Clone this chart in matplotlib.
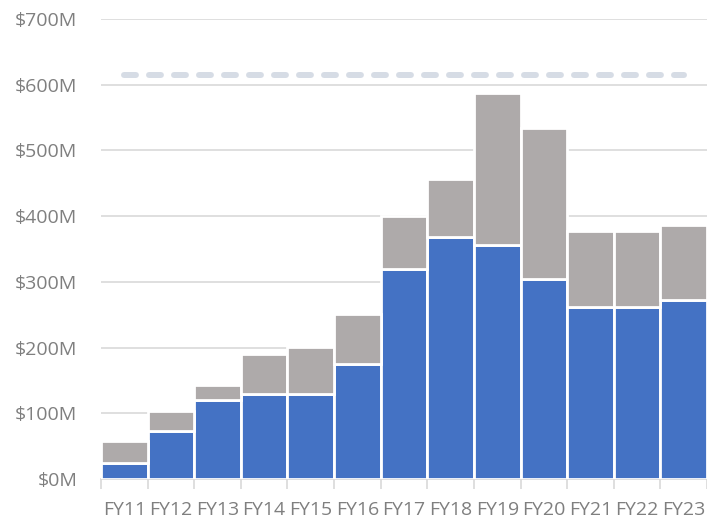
import matplotlib
matplotlib.use("Agg")
import matplotlib.pyplot as plt
import numpy as np

years = ["FY11", "FY12", "FY13", "FY14", "FY15", "FY16", "FY17",
         "FY18", "FY19", "FY20", "FY21", "FY22", "FY23"]
# blue (lower) part and total height, $M
blue = [24, 73, 120, 130, 130, 175, 320, 368, 356, 305, 262, 262, 272]
total = [58, 103, 143, 190, 201, 251, 400, 457, 587, 534, 377, 377, 387]
target = [615] * 13

gray = [t - b for t, b in zip(total, blue)]

plt.rcParams['font.family'] = ['Open Sans', 'DejaVu Sans']
plt.rcParams['lines.scale_dashes'] = False

fig = plt.figure(figsize=(7.07, 5.23), dpi=100)
ax = fig.add_axes([101 / 707, 1 - 479 / 523, 606 / 707, (479 - 19) / 523])

x = np.arange(len(years))
ax.bar(x, blue, width=1.0, color="#4472C4", edgecolor="white", linewidth=2, zorder=3)
ax.bar(x, gray, bottom=blue, width=1.0, color="#AEAAAA", edgecolor="white", linewidth=2, zorder=3)

ax.plot(x, target, color="#D6DCE5", linewidth=4.3, linestyle=(0, (8.6, 9.4)),
        dash_capstyle="round", solid_capstyle="round", zorder=4)

ax.set_xlim(-0.5, len(years) - 0.5)
ax.set_ylim(0, 700)
ax.set_yticks(np.arange(0, 701, 100))
ax.set_yticklabels(["$%dM" % v for v in range(0, 701, 100)])
ax.yaxis.grid(True, color="#D9D9D9", linewidth=1.2, zorder=0)
ax.set_axisbelow(True)

ax.set_xticks(x)
ax.set_xticklabels(years)
ax.set_xticks(np.arange(-0.5, len(years), 1.0), minor=True)
ax.tick_params(axis="x", which="major", length=0, pad=16)
ax.tick_params(axis="x", which="minor", length=7, color="#D9D9D9", width=1.2)
ax.tick_params(axis="y", length=0, pad=17)
ax.tick_params(labelsize=14, labelcolor="#7F7F7F")

for s in ["top", "right", "left"]:
    ax.spines[s].set_visible(False)
ax.spines["bottom"].set_color("#D9D9D9")
ax.spines["bottom"].set_linewidth(1.2)

fig.savefig("out.png", dpi=100)
